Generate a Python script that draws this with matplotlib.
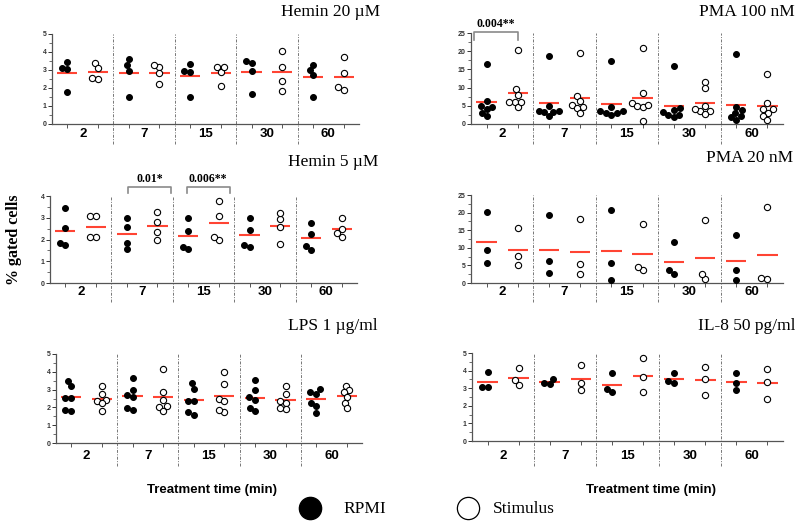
import matplotlib
matplotlib.use('Agg')
import matplotlib.pyplot as plt
import numpy as np

W, H = 795, 522

times = ['2', '7', '15', '30', '60']

# values per time point (RPMI = filled, Stimulus = open)
hemin20_rpmi = [[3.13, 3.43, 3.04, 1.80], [3.28, 3.61, 2.96, 1.52], [2.96, 3.31, 2.91, 1.52],
                [3.39, 3.48, 2.96, 1.65], [2.98, 3.28, 2.70, 1.48]]
hemin20_stim = [[3.37, 3.09, 2.48, 2.56], [3.15, 3.28, 2.81, 2.20], [3.15, 2.91, 3.19, 2.11],
                [4.06, 3.15, 2.41, 1.85], [3.72, 2.81, 1.89, 2.04]]

pma100_rpmi = [[16.5, 4.9, 4.1, 4.6, 2.1, 3.1, 6.3], [18.8, 5.0, 3.4, 2.2, 3.5, 3.7, 3.2],
               [17.3, 4.8, 3.7, 2.9, 2.6, 2.9, 3.5], [15.9, 4.3, 3.8, 3.4, 2.5, 1.8, 2.5],
               [19.3, 4.8, 3.8, 2.9, 2.2, 1.8, 1.1]]
pma100_stim = [[20.2, 9.5, 7.95, 6.0, 4.6, 6.0, 6.0], [19.4, 7.7, 6.3, 4.8, 5.2, 4.3, 2.9],
               [20.8, 8.4, 5.9, 4.9, 4.6, 5.2, 0.9], [11.6, 9.8, 4.9, 3.7, 3.7, 4.2, 2.7],
               [13.8, 5.8, 4.0, 4.1, 3.1, 2.2, 1.0]]

hemin5_rpmi = [[3.47, 2.51, 1.75, 1.83], [3.01, 2.56, 1.55, 1.83], [3.01, 2.39, 1.55, 1.67],
               [3.01, 2.43, 1.67, 1.73], [2.77, 2.24, 1.54, 1.70]]
hemin5_stim = [[3.07, 3.07, 2.10, 2.13], [3.27, 2.80, 2.36, 1.98], [3.76, 3.10, 1.98, 2.13],
               [2.95, 3.24, 2.59, 1.78], [3.00, 2.46, 2.13, 2.31]]

pma20_rpmi = [[20.1, 9.4, 5.7], [19.3, 6.2, 2.8], [20.6, 5.8, 0.85], [11.6, 2.6, 3.6], [13.7, 3.8, 0.9]]
pma20_stim = [[15.5, 7.7, 5.2], [18.2, 5.3, 2.6], [16.8, 3.6, 4.5], [17.9, 1.0, 2.5], [21.7, 1.1, 1.3]]

lps_rpmi = [[3.20, 3.48, 2.54, 2.54, 1.77, 1.84], [3.67, 3.00, 2.67, 2.56, 1.84, 1.94],
            [3.36, 3.03, 2.37, 2.37, 1.60, 1.73], [3.53, 3.00, 2.56, 2.44, 1.77, 1.97],
            [3.05, 2.78, 2.26, 2.10, 1.71, 2.84]]
lps_stim = [[3.23, 2.74, 2.37, 2.44, 2.22, 1.82], [4.17, 2.86, 2.44, 2.07, 2.03, 1.80],
            [4.00, 3.29, 2.46, 2.35, 1.75, 1.84], [3.20, 2.78, 2.37, 2.26, 1.92, 1.99],
            [3.23, 2.97, 2.86, 2.59, 2.27, 1.94]]

il8_rpmi = [[3.91, 3.06, 3.09], [3.51, 3.23, 3.32], [3.85, 2.81, 2.96], [3.85, 3.32, 3.42], [3.85, 3.30, 2.92]]
il8_stim = [[4.15, 3.17, 3.45], [4.34, 3.32, 2.89], [4.74, 3.62, 2.77], [4.23, 3.53, 2.60], [4.09, 3.34, 2.38]]

# title, rpmi, stim, ymax, ystep, axes box px (l, t, r, b), title px (right x, y), label y px, brackets
panels = [
    ('Hemin 20 \u00b5M', hemin20_rpmi, hemin20_stim, 5, 1, (52, 34, 359, 124), (380, 12), 134, []),
    ('PMA 100 nM', pma100_rpmi, pma100_stim, 25, 5, (471, 33, 783, 124), (795, 12), 134,
     [(-0.4, 1.0, 23.1, 25.2, 27.6, '0.004**')]),
    ('Hemin 5 \u00b5M', hemin5_rpmi, hemin5_stim, 4, 1, (50, 196, 357, 283), (378, 162), 292,
     [(2.05, 3.45, 4.14, 4.41, 4.80, '0.01*'), (3.95, 5.35, 4.14, 4.41, 4.80, '0.006**')]),
    ('PMA 20 nM', pma20_rpmi, pma20_stim, 25, 5, (471, 195, 783, 283), (793, 158), 292, []),
    ('LPS 1 \u00b5g/ml', lps_rpmi, lps_stim, 5, 1, (56, 354, 362, 443), (378, 326), 456, []),
    ('IL-8 50 pg/ml', il8_rpmi, il8_stim, 5, 1, (472, 353, 783, 441), (795, 326), 456, []),
]

SANS = 'Liberation Sans'
SERIF = 'Liberation Serif'


def swarm(vals, xpx, ypx, d=6.0):
    vals = np.asarray(vals, float)
    offs = np.zeros(len(vals))
    placed = []
    for i in np.argsort(vals):
        y = vals[i] * ypx
        bad = []
        for ox, oy in placed:
            dy = abs(oy - y)
            if dy < d:
                w = np.sqrt(d * d - dy * dy)
                bad.append((ox - w, ox + w))
        cands = sorted([0.0] + [b for iv in bad for b in iv], key=abs)
        c = 0.0
        for c in cands:
            if all(not (lo + 1e-6 < c < hi - 1e-6) for lo, hi in bad):
                break
        offs[i] = c / xpx
        placed.append((c, y))
    return offs


fig = plt.figure(figsize=(W / 100, H / 100), dpi=100)

for title, rpmi, stim, ymax, ystep, box, tpos, laby, brackets in panels:
    l, t, r, b = box
    ax = fig.add_axes([l / W, 1 - b / H, (r - l) / W, (b - t) / H])
    xpx = (r - l) / 10.0
    ypx = (b - t) / float(ymax)
    for g in range(5):
        for k, (grp, face, ms) in enumerate([(rpmi, 'black', 4.2), (stim, 'white', 4.5)]):
            pos = 2 * g + k
            vals = grp[g]
            xs = pos + swarm(vals, xpx, ypx)
            ax.plot(xs, vals, 'o', ms=ms, mfc=face, mec='black', mew=0.8,
                    linestyle='none', clip_on=False, zorder=3)
            ax.hlines(np.mean(vals), pos - 0.33, pos + 0.33, color='#ff4433',
                      lw=1.5, zorder=2)
        ax.text(2 * g + 0.5, -(laby - b) / (b - t) * ymax, times[g], ha='center', va='center',
                fontsize=9.5, fontweight='bold', family=SANS)
    ybot = -(laby + 10 - b) / (b - t) * ymax
    for dv in [1.5, 3.5, 5.5, 7.5]:
        ax.plot([dv, dv], [ybot, ymax], color='#777777', lw=0.7, ls=(0, (3, 1.5, 1, 1.5)),
                clip_on=False, zorder=1)
    for x0, x1, yl, yt, ytx, lab in brackets:
        ax.plot([x0, x0, x1, x1], [yl, yt, yt, yl], color='#8a8a8a', lw=1.2, clip_on=False)
        ax.text((x0 + x1) / 2, ytx, lab, ha='center', va='center', fontsize=8.5,
                fontweight='bold', family=SERIF)
    ax.set_xlim(-0.5, 9.5)
    ax.set_ylim(0, ymax)
    ax.set_xticks(range(10))
    ax.set_xticklabels([])
    ax.set_yticks(np.arange(0, ymax + 0.01, ystep))
    ax.set_yticks(np.arange(ystep / 2, ymax, ystep), minor=True)
    ax.tick_params(axis='y', labelsize=5, length=3, width=0.7, pad=1, colors='#333333')
    ax.tick_params(axis='y', which='minor', length=2, width=0.6, colors='#555555')
    ax.tick_params(axis='x', length=3, width=0.7, colors='#555555')
    for lbl in ax.get_yticklabels():
        lbl.set_fontweight('bold')
        lbl.set_family(SANS)
    for s in ['top', 'right']:
        ax.spines[s].set_visible(False)
    for s in ['left', 'bottom']:
        ax.spines[s].set_color('#555555')
        ax.spines[s].set_linewidth(0.9)
    ax.patch.set_alpha(0)
    fig.text(tpos[0] / W, 1 - tpos[1] / H, title, ha='right', va='center',
             fontsize=12.5, family=SERIF)

fig.text(14 / W, 1 - 240 / H, '% gated cells', rotation=90, ha='center', va='center',
         fontsize=11.5, fontweight='bold', family=SERIF)
fig.text(212 / W, 1 - 490 / H, 'Treatment time (min)', ha='center', va='center',
         fontsize=9.5, fontweight='bold', family=SANS)
fig.text(651 / W, 1 - 490 / H, 'Treatment time (min)', ha='center', va='center',
         fontsize=9.5, fontweight='bold', family=SANS)

# legend
fig.add_artist(plt.Line2D([310 / W], [1 - 508 / H], marker='o', ms=16, mfc='black',
                          mec='black', transform=fig.transFigure))
fig.text(343 / W, 1 - 509 / H, 'RPMI', ha='left', va='center', fontsize=12.5, family=SERIF)
fig.add_artist(plt.Line2D([468 / W], [1 - 508 / H], marker='o', ms=16, mfc='white',
                          mec='black', mew=0.9, transform=fig.transFigure))
fig.text(493 / W, 1 - 509 / H, 'Stimulus', ha='left', va='center', fontsize=12.5, family=SERIF)

fig.savefig('out.png', dpi=100)
